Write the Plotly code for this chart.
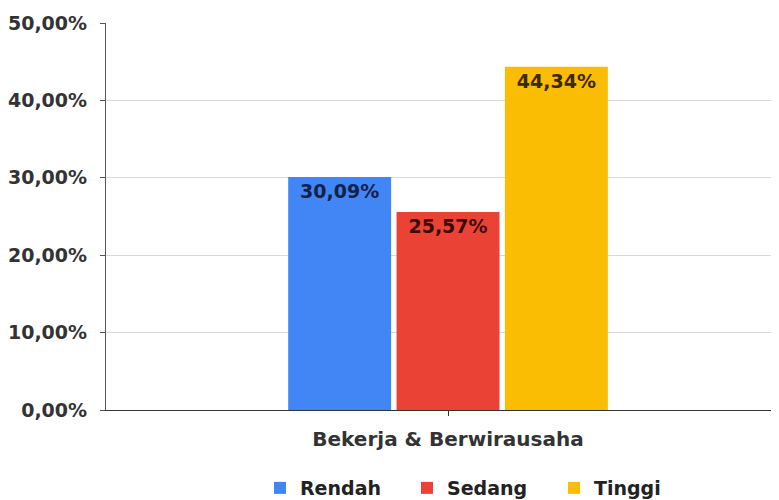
import plotly.graph_objects as go

categories = ["Bekerja & Berwirausaha"]
series_names = ["Rendah", "Sedang", "Tinggi"]
values_rendah = [30.09]
values_sedang = [25.57]
values_tinggi = [44.34]
colors = ["#4285F4", "#EA4335", "#FBBC04"]
text_colors = ["#13224a", "#3a0c08", "#3a2800"]
y_ticks = [0, 10, 20, 30, 40, 50]
y_ticktext = [f"{v:.2f}%".replace(".", ",") for v in y_ticks]

FONT = "DejaVu Sans"

fig = go.Figure()
for name, vals, c, tc in zip(series_names, [values_rendah, values_sedang, values_tinggi], colors, text_colors):
    fig.add_trace(go.Bar(
        x=[0], y=vals, name=name, marker=dict(color=c, line=dict(width=0)),
        texttemplate="%{y:.2f}%", textposition="inside", insidetextanchor="end",
        textangle=0,
        textfont=dict(family=FONT, size=19, color=tc, weight="bold"),
    ))

fig.update_layout(
    width=771, height=492,
    margin=dict(l=98, r=0, t=15, b=90, autoexpand=False),
    paper_bgcolor="white", plot_bgcolor="white",
    separators=",.",
    barmode="group", bargap=0.517, bargroupgap=0.05,
    showlegend=True,
    legend=dict(orientation="h", x=0.2288, xanchor="left", y=-0.2016, yanchor="middle",
                font=dict(family=FONT, size=19, color="#222", weight="bold"),
                itemwidth=30, entrywidth=102, entrywidthmode="pixels",
                traceorder="normal"),
    xaxis=dict(range=[-0.5082, 0.4918], tickvals=[0], ticktext=categories,
               showline=True, linecolor="#333", linewidth=1.2,
               ticks="outside", ticklen=5, tickcolor="#333",
               tickfont=dict(family=FONT, size=20, color="#333", weight="bold"),
               showgrid=False, zeroline=False, automargin=False,
               ticklabelstandoff=6),
    yaxis=dict(range=[0, 50], tickvals=y_ticks, ticktext=y_ticktext,
               showline=True, linecolor="#555", linewidth=1.2,
               ticks="outside", ticklen=5, tickcolor="#555",
               tickfont=dict(family=FONT, size=19, color="#333", weight="bold"),
               showgrid=True, gridcolor="#d9d9d9", gridwidth=1, zeroline=False,
               automargin=False, ticklabelstandoff=9),
    font=dict(family=FONT),
)

fig.write_html("out.html")
